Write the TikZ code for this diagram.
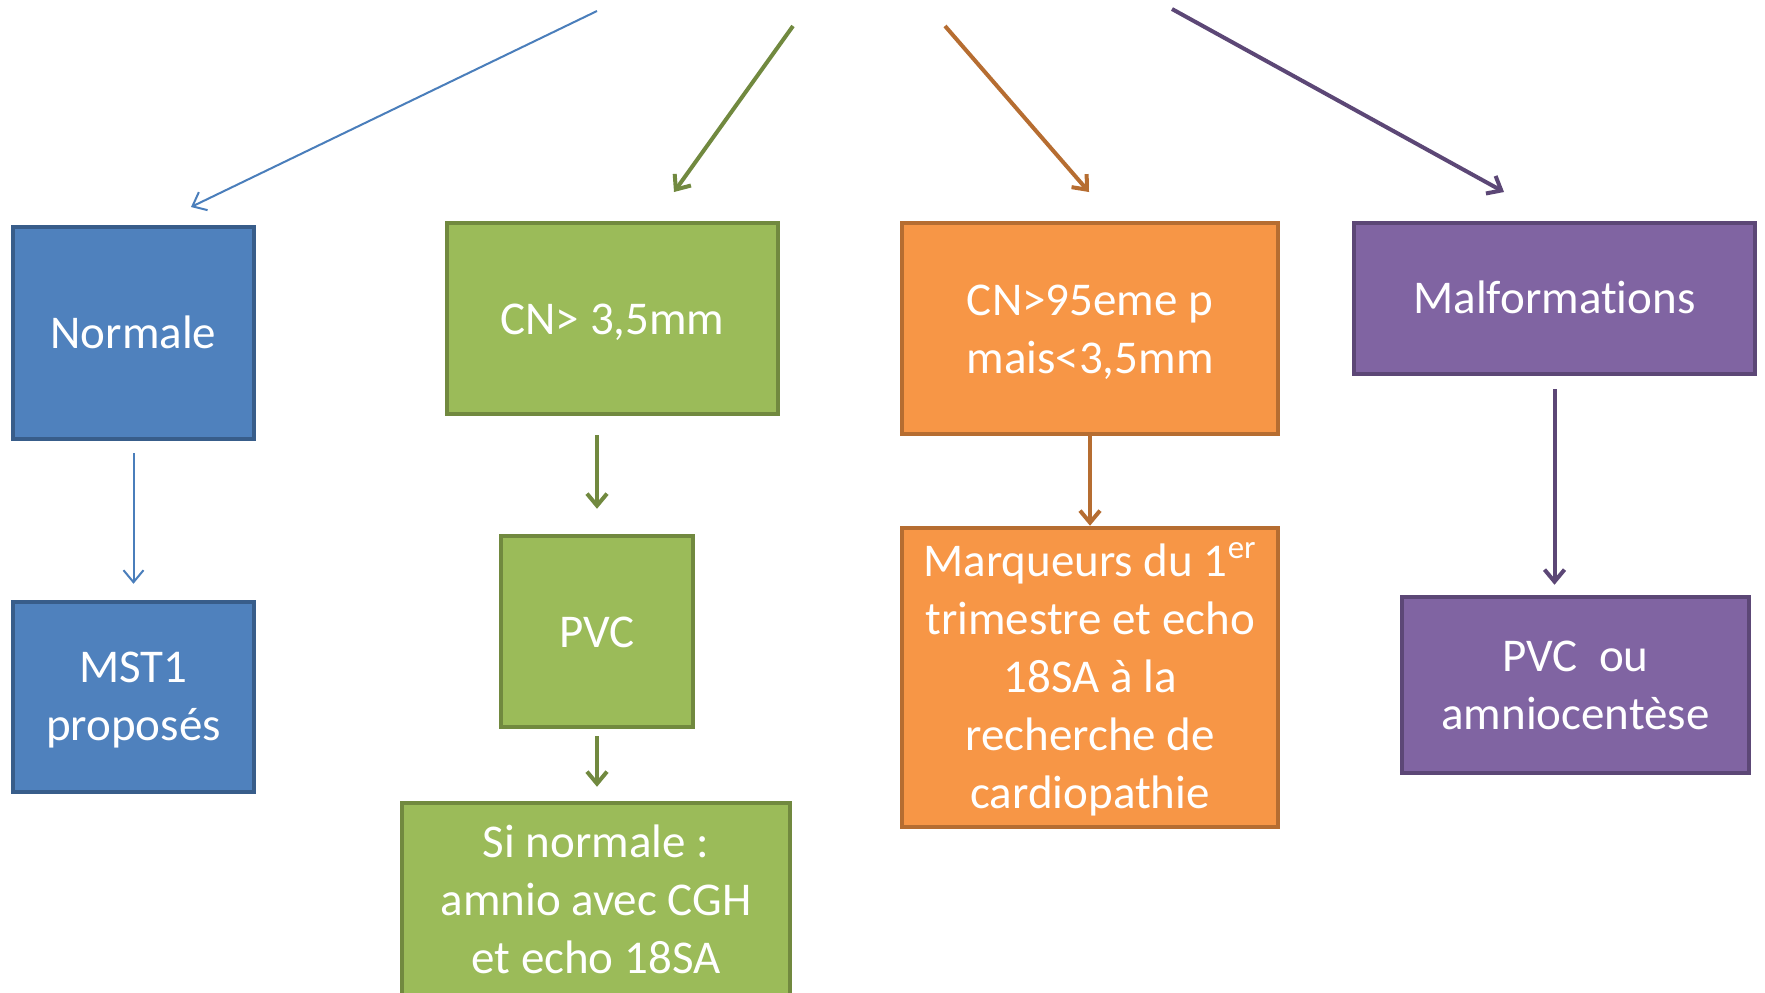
\documentclass[tikz,border=0pt]{standalone}
\usepackage{fontspec}
\setmainfont{Carlito}[Ligatures={NoCommon}]
\usetikzlibrary{arrows.meta}
\definecolor{bfill}{HTML}{4F81BD}\definecolor{bline}{HTML}{385D8A}\definecolor{barrow}{HTML}{4A7EBB}
\definecolor{gfill}{HTML}{9BBB59}\definecolor{gline}{HTML}{71893F}
\definecolor{ofill}{HTML}{F79646}\definecolor{oline}{HTML}{B66D31}
\definecolor{pfill}{HTML}{8064A2}\definecolor{pline}{HTML}{5C4776}
\tikzset{
  box/.style={draw, line width=2.25pt, text=white, align=center, inner sep=0pt,
    text depth=0pt, font=\fontsize{23.5pt}{28.9pt}\selectfont},
  bbox/.style={box, fill=bfill, draw=bline},
  gbox/.style={box, fill=gfill, draw=gline},
  obox/.style={box, fill=ofill, draw=oline},
  pbox/.style={box, fill=pfill, draw=pline},
  thinarr/.style={draw=barrow, line width=1pt, -{Straight Barb[length=6pt,width=10pt]}},
  thickarr/.style={line width=2pt, -{Straight Barb[length=6pt,width=10pt]}},
}
\begin{document}
\begin{tikzpicture}[x=0.5pt,y=-0.5pt]
\useasboundingbox (0,0) rectangle (1765,992);
\clip (0,0) rectangle (1765,992);
\fill[white] (0,0) rectangle (1765,992);
% boxes
\node[bbox, minimum width=120.5pt, minimum height=106pt, text height=15.7pt] (norm) at (133.5,333) {Normale};
\node[bbox, minimum width=120.5pt, minimum height=95pt, text height=43pt] (mst) at (133.5,697) {MST1\\propos\'es};
\node[gbox, minimum width=165.5pt, minimum height=95.5pt, text height=15.8pt] (cn) at (612.5,318.5) {CN> 3,5mm};
\node[gbox, minimum width=96pt, minimum height=95.5pt, text height=16.1pt] (pvc) at (597,631.5) {PVC};
\node[gbox, minimum width=194pt, minimum height=98pt, text height=72pt] (si) at (596,901) {Si normale :\\amnio avec CGH\\et echo 18SA};
\node[obox, minimum width=188pt, minimum height=105.5pt, text height=44.8pt] (o1) at (1090,328.5) {CN>95eme p\\mais<3,5mm};
\node[obox, minimum width=188pt, minimum height=149.5pt, text height=130.5pt] (o2) at (1090,677.5) {Marqueurs du 1\textsuperscript{er}\\trimestre et echo\\18SA \`a la\\recherche de\\cardiopathie};
\node[pbox, minimum width=200.5pt, minimum height=75.5pt, text height=14.8pt] (m1) at (1554.5,298.5) {Malformations};
\node[pbox, minimum width=173.5pt, minimum height=88pt, text height=44pt] (m2) at (1575.5,685) {PVC~ ou\\amniocent\`ese};
% top arrows
\coordinate (sb) at (597,11);   \coordinate (eb) at (191,207);
\coordinate (sg) at (793,26);   \coordinate (eg) at (674,192);
\coordinate (so) at (945,26);   \coordinate (eo) at (1089,192);
\coordinate (sp) at (1172,9);   \coordinate (ep) at (1504,192);
\draw[thinarr] (sb) -- (eb);
\draw[thickarr, draw=gline] (sg) -- (eg);
\draw[thickarr, draw=oline] (so) -- (eo);
\draw[thickarr, draw=pline] (sp) -- (ep);
% vertical arrows
\draw[thinarr, shorten <=6pt, shorten >=8pt] (norm.south) -- (mst.north);
\draw[thickarr, draw=gline, shorten <=9.5pt, shorten >=12.5pt] (cn.south -| pvc.north) -- (pvc.north);
\draw[thickarr, draw=gline, shorten <=3.5pt, shorten >=7pt] (pvc.south) -- (si.north -| pvc.south);
\draw[thickarr, draw=oline] (o1.south) -- (o2.north);
\draw[thickarr, draw=pline, shorten <=6.5pt, shorten >=5pt] (m1.south) -- (m1.south |- m2.north);
\end{tikzpicture}
\end{document}
